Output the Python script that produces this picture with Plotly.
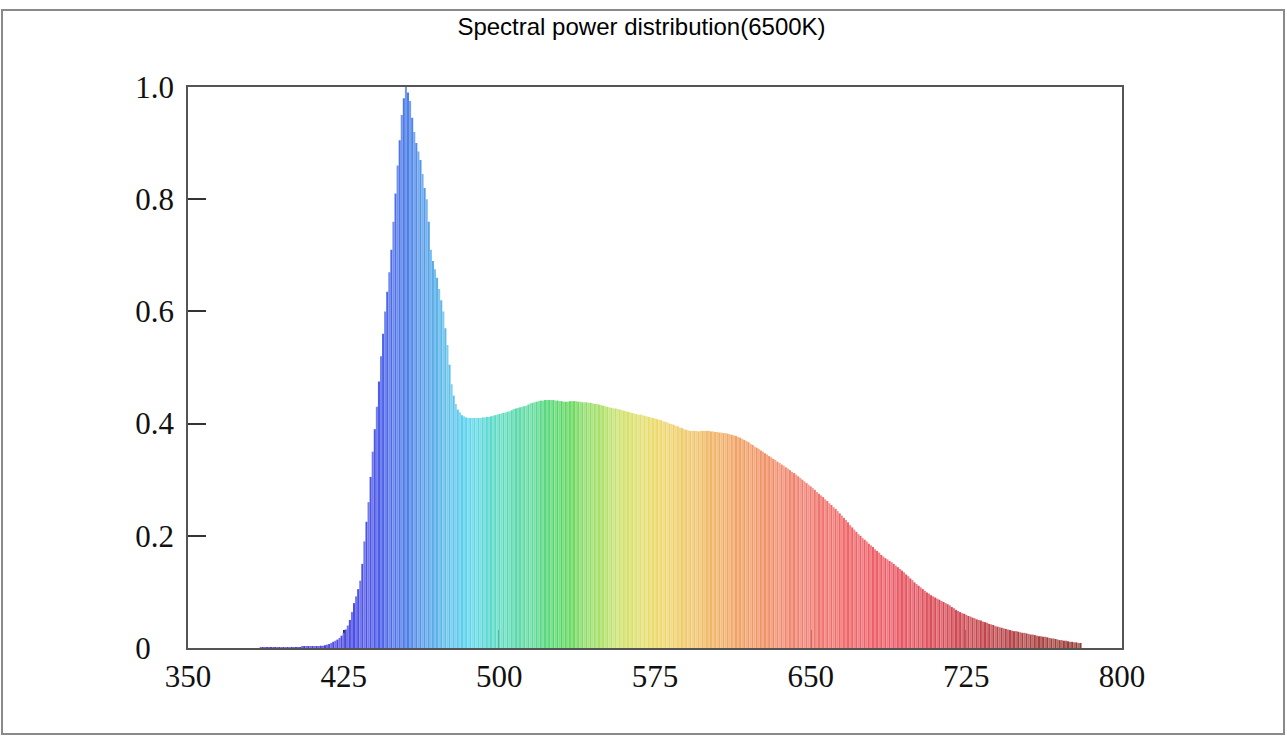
import plotly.graph_objects as go

# ---------------- data ----------------
wavelength_start = 380
wavelength_step = 1
relative_power = [
    0.000, 0.000, 0.000, 0.000, 0.000, 0.001, 0.001, 0.001, 0.001, 0.001,  # 380
    0.001, 0.001, 0.001, 0.001, 0.001, 0.001, 0.001, 0.001, 0.001, 0.001,  # 390
    0.001, 0.001, 0.001, 0.001, 0.001, 0.002, 0.002, 0.002, 0.002, 0.002,  # 400
    0.002, 0.002, 0.003, 0.003, 0.004, 0.004, 0.005, 0.006, 0.007, 0.009,  # 410
    0.011, 0.013, 0.015, 0.018, 0.022, 0.027, 0.033, 0.040, 0.050, 0.064,  # 420
    0.080, 0.092, 0.105, 0.120, 0.150, 0.190, 0.225, 0.260, 0.305, 0.350,  # 430
    0.390, 0.430, 0.475, 0.520, 0.560, 0.600, 0.635, 0.670, 0.710, 0.760,  # 440
    0.810, 0.860, 0.905, 0.950, 0.980, 1.000, 0.990, 0.975, 0.945, 0.920,  # 450
    0.900, 0.885, 0.870, 0.845, 0.820, 0.800, 0.760, 0.710, 0.690, 0.675,  # 460
    0.660, 0.640, 0.620, 0.600, 0.570, 0.540, 0.505, 0.470, 0.450, 0.435,  # 470
    0.425, 0.420, 0.415, 0.413, 0.411, 0.410, 0.410, 0.410, 0.410, 0.410,  # 480
    0.410, 0.410, 0.411, 0.411, 0.412, 0.412, 0.413, 0.414, 0.415, 0.416,  # 490
    0.417, 0.418, 0.419, 0.420, 0.421, 0.422, 0.424, 0.426, 0.427, 0.428,  # 500
    0.429, 0.430, 0.431, 0.432, 0.434, 0.436, 0.437, 0.438, 0.439, 0.440,  # 510
    0.441, 0.441, 0.442, 0.442, 0.442, 0.442, 0.442, 0.441, 0.441, 0.440,  # 520
    0.440, 0.439, 0.439, 0.439, 0.440, 0.440, 0.440, 0.440, 0.439, 0.439,  # 530
    0.438, 0.438, 0.438, 0.437, 0.437, 0.436, 0.435, 0.435, 0.434, 0.433,  # 540
    0.432, 0.431, 0.430, 0.429, 0.428, 0.427, 0.427, 0.426, 0.425, 0.424,  # 550
    0.423, 0.422, 0.421, 0.420, 0.419, 0.418, 0.417, 0.416, 0.416, 0.415,  # 560
    0.414, 0.413, 0.412, 0.411, 0.410, 0.409, 0.408, 0.407, 0.406, 0.404,  # 570
    0.403, 0.402, 0.400, 0.399, 0.398, 0.396, 0.395, 0.393, 0.392, 0.390,  # 580
    0.389, 0.388, 0.387, 0.387, 0.387, 0.387, 0.386, 0.387, 0.387, 0.387,  # 590
    0.387, 0.387, 0.386, 0.386, 0.385, 0.385, 0.384, 0.384, 0.383, 0.383,  # 600
    0.382, 0.381, 0.380, 0.379, 0.378, 0.376, 0.375, 0.373, 0.371, 0.369,  # 610
    0.367, 0.364, 0.362, 0.359, 0.357, 0.355, 0.352, 0.350, 0.347, 0.345,  # 620
    0.342, 0.340, 0.337, 0.335, 0.332, 0.330, 0.327, 0.325, 0.322, 0.320,  # 630
    0.317, 0.314, 0.312, 0.309, 0.306, 0.303, 0.300, 0.297, 0.294, 0.291,  # 640
    0.288, 0.285, 0.282, 0.278, 0.275, 0.272, 0.269, 0.265, 0.262, 0.258,  # 650
    0.255, 0.251, 0.248, 0.244, 0.240, 0.236, 0.232, 0.228, 0.224, 0.219,  # 660
    0.215, 0.211, 0.207, 0.203, 0.200, 0.196, 0.193, 0.190, 0.186, 0.183,  # 670
    0.180, 0.176, 0.173, 0.170, 0.166, 0.163, 0.160, 0.158, 0.155, 0.153,  # 680
    0.150, 0.147, 0.144, 0.141, 0.138, 0.135, 0.131, 0.128, 0.124, 0.121,  # 690
    0.117, 0.114, 0.111, 0.108, 0.105, 0.102, 0.099, 0.097, 0.094, 0.092,  # 700
    0.090, 0.088, 0.086, 0.084, 0.082, 0.080, 0.078, 0.076, 0.073, 0.071,  # 710
    0.068, 0.066, 0.064, 0.062, 0.061, 0.059, 0.057, 0.056, 0.054, 0.053,  # 720
    0.051, 0.050, 0.049, 0.047, 0.046, 0.045, 0.043, 0.042, 0.041, 0.039,  # 730
    0.038, 0.037, 0.036, 0.035, 0.034, 0.033, 0.032, 0.031, 0.030, 0.030,  # 740
    0.029, 0.028, 0.027, 0.027, 0.026, 0.025, 0.024, 0.024, 0.023, 0.022,  # 750
    0.021, 0.021, 0.020, 0.020, 0.019, 0.018, 0.017, 0.017, 0.016, 0.015,  # 760
    0.014, 0.014, 0.013, 0.013, 0.012, 0.011, 0.011, 0.010, 0.010, 0.009,  # 770
    0.009,                                                                 # 780
]
wavelengths = [wavelength_start + i * wavelength_step for i in range(len(relative_power))]

x_tick_values = [350, 425, 500, 575, 650, 725, 800]
y_tick_values = [0, 0.2, 0.4, 0.6, 0.8, 1.0]
y_tick_labels = ["0\u00a0\u00a0\u00a0", "0.2", "0.4", "0.6", "0.8", "1.0"]
title_text = "Spectral power distribution(6500K)"

# ---------------- colour map (style) ----------------
color_anchors = [
    (380, (80, 60, 210)), (420, (76, 70, 226)), (440, (76, 88, 232)),
    (455, (76, 124, 232)), (470, (90, 178, 232)), (485, (94, 214, 238)),
    (500, (92, 218, 192)), (515, (92, 218, 156)), (530, (86, 214, 96)),
    (545, (156, 222, 104)), (560, (212, 226, 108)), (575, (236, 218, 108)),
    (590, (240, 202, 108)), (605, (240, 176, 100)), (625, (240, 148, 100)),
    (645, (240, 128, 112)), (665, (240, 104, 104)), (690, (234, 88, 100)),
    (715, (214, 74, 86)), (745, (182, 66, 70)), (780, (150, 62, 56)),
]


def wl_color(w, lighten):
    c = color_anchors[-1][1]
    for (w0, c0), (w1, c1) in zip(color_anchors[:-1], color_anchors[1:]):
        if w0 <= w <= w1:
            t = (w - w0) / (w1 - w0)
            c = [a + (b - a) * t for a, b in zip(c0, c1)]
            break
    c = [round(v + (255 - v) * lighten) for v in c]
    return "rgb({},{},{})".format(*c)


bar_colors = [wl_color(w, 0.22 if i % 2 else 0.0) for i, w in enumerate(wavelengths)]

fig = go.Figure(
    go.Bar(
        x=wavelengths,
        y=relative_power,
        marker=dict(color=bar_colors, line=dict(width=0)),
        width=1.0,
        hoverinfo="x+y",
    )
)

axis_font = dict(family="Liberation Serif, Times New Roman, serif", size=31, color="#111")

W, H = 1287, 743
L, R, T, B = 188, 1122, 87, 648

fig.update_layout(
    width=W,
    height=H,
    paper_bgcolor="white",
    plot_bgcolor="white",
    margin=dict(l=L, r=W - R, t=T, b=H - B),
    showlegend=False,
    title=dict(
        text=title_text,
        x=641.5 / W,
        xanchor="center",
        y=1 - 27 / H,
        yanchor="middle",
        font=dict(family="Liberation Sans, Arial, sans-serif", size=24, color="#000"),
    ),
    xaxis=dict(
        range=[350, 800],
        tickvals=x_tick_values,
        ticks="inside",
        ticklen=18,
        tickwidth=1.5,
        tickcolor="#333",
        showgrid=False,
        zeroline=False,
        showline=True,
        linecolor="#555",
        linewidth=1.5,
        mirror=True,
        tickfont=axis_font,
        layer="below traces",
    ),
    yaxis=dict(
        range=[0, 1.0],
        tickvals=y_tick_values,
        ticktext=y_tick_labels,
        ticks="inside",
        ticklen=18,
        tickwidth=1.5,
        tickcolor="#333",
        showgrid=False,
        zeroline=False,
        showline=True,
        linecolor="#555",
        linewidth=1.5,
        mirror=True,
        tickfont=axis_font,
        ticklabelstandoff=6,
    ),
    shapes=[
        dict(
            type="rect",
            xref="paper",
            yref="paper",
            x0=(2 - L) / (R - L),
            x1=(1284 - L) / (R - L),
            y0=(B - 734) / (B - T),
            y1=(B - 10) / (B - T),
            line=dict(color="#8a8a8a", width=2),
            fillcolor="rgba(0,0,0,0)",
            layer="below",
        )
    ],
)

fig.write_html(
    "out.html",
    config={"displayModeBar": False},
    post_script="document.body.style.margin='0';document.body.style.padding='0';document.body.style.overflow='hidden';",
)
